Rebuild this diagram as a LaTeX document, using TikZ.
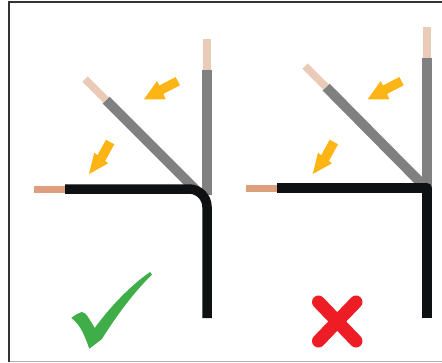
\documentclass[tikz,border=0pt]{standalone}
\usepackage{xcolor}
\usetikzlibrary{calc}
\definecolor{wiregray}{HTML}{808080}
\definecolor{wireblack}{HTML}{0E1012}
\definecolor{palecopper}{HTML}{E9CBB8}
\definecolor{copper}{HTML}{DE9F7E}
\definecolor{warnorange}{HTML}{FDB515}
\definecolor{okgreen}{HTML}{3FAE49}
\definecolor{badred}{HTML}{EE1C25}
\tikzset{
  core/.style   = {line width=9.3pt, draw=wiregray},
  dcore/.style  = {line width=9.8pt, draw=wiregray},
  strip/.style  = {line width=7.5pt, draw=palecopper},
  bcore/.style  = {line width=9.5pt, draw=wireblack},
  bstrip/.style = {line width=7pt, draw=copper},
  pointer/.style = {fill=warnorange, draw=none}
}

\begin{document}
\begin{tikzpicture}[x=1pt, y=-1pt]
\useasboundingbox (0,0) rectangle (442,362);

%% Frame
\draw[line width=0.9pt, draw=gray!60] (9,361.2)--(442,361.2);
\draw[line width=1.6pt, draw=black!80] (442,2.2)--(9.2,2.2)--(9.2,362);

%% Left wires
\draw[core]  (207,70)--(207,195);
\draw[strip] (207,39)--(207,70);
\draw[dcore] (106,100)--(197,191);
\draw[strip] (85,79)--(106,100);
\draw[bstrip] (34,189)--(65,189);
\draw[bcore]  (65,189)--(189,189) arc[start angle=-90, end angle=0, radius=18]--(207,318);

%% Right wires
\draw[core]  (427,58)--(427,188);
\draw[strip] (427,27)--(427,58);
\draw[dcore] (326,87)--(425,187);
\draw[strip] (305,66)--(326,87);
\draw[bstrip] (246,188)--(277,188);
\draw[bcore, line join=round] (277,188)--(427,188)--(427,318);

%% Orange pointers
\foreach \dx/\name in {0/left, 223.7/right} {
  \fill[pointer, xshift=\dx] (144,99.3)--(157,81)--(159.3,85.5)--(175.7,77)
    --(180,85.3)--(163.4,93.9)--(165.7,99.3)--cycle;
  \fill[pointer, xshift=\dx] (89,174)--(94.3,152.7)--(97.5,155.2)--(106,139.7)
    --(114.3,144.3)--(105.2,161)--(108.3,163.3)--cycle;
}

%% Green tick
\fill[okgreen] (71.3,318) .. controls (75,315) and (78,313) .. (81.7,312)
  .. controls (84,312) and (86,314) .. (87.3,316)
  .. controls (90,320) and (92.5,324) .. (94.7,328)
  .. controls (110,307) and (130,286) .. (150,272)
  --(152,274.7)
  .. controls (134,292) and (117,315) .. (101.7,339.3)
  --(89.3,348.7)
  .. controls (85,337) and (81,325) .. (71.3,318)--cycle;

%% Red cross
\draw[line width=13pt, line cap=round, draw=badred] (318.5,302)--(356,341);
\draw[line width=13pt, line cap=round, draw=badred] (356,302)--(318.5,341);

\end{tikzpicture}
\end{document}
